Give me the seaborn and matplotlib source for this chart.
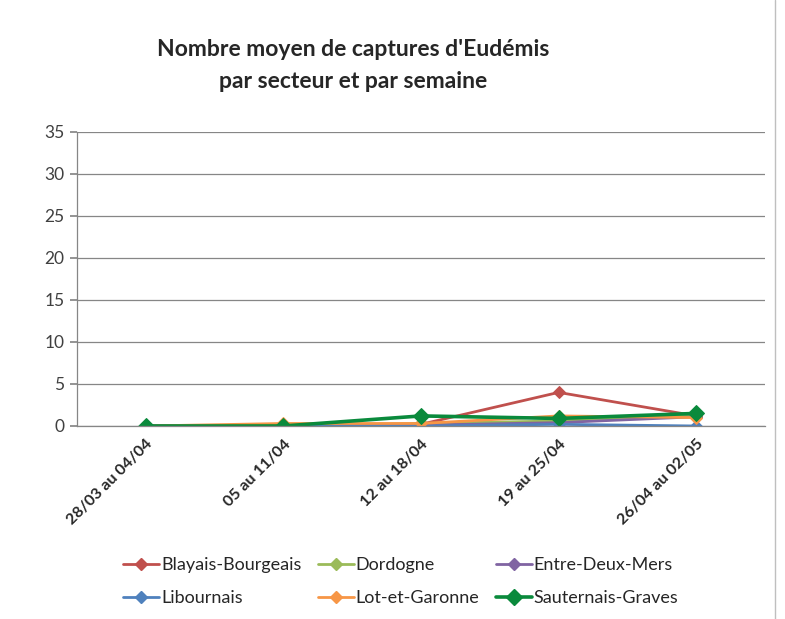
import matplotlib
matplotlib.use("Agg")
import matplotlib.pyplot as plt
import seaborn as sns
import pandas as pd
from matplotlib.lines import Line2D

weeks = ["28/03 au 04/04", "05 au 11/04", "12 au 18/04", "19 au 25/04", "26/04 au 02/05"]
blayais = [0, 0, 0.2, 4.0, 1.2]
dordogne = [0, 0, 0.3, 0.6, 1.3]
entre = [0, 0, 0.1, 0.4, 1.1]
libournais = [0, 0, 0.0, 0.2, 0.0]
lot = [0, 0.3, 0.3, 1.2, 1.0]
sauternais = [0, 0, 1.2, 0.9, 1.5]

series_names = ["Blayais-Bourgeais", "Dordogne", "Entre-Deux-Mers",
                "Libournais", "Lot-et-Garonne", "Sauternais-Graves"]
series_values = [blayais, dordogne, entre, libournais, lot, sauternais]
colors = ["#C0504D", "#9BBB59", "#8064A2", "#4F81BD", "#F79646", "#0A8A3C"]

sns.set_theme(style="white")
plt.rcParams['font.family'] = ['Lato', 'DejaVu Sans']

fig = plt.figure(figsize=(7.85, 6.19), dpi=100)
ax = fig.add_axes([77/785, 1-426/619, (765-77)/785, (426-132)/619])

handles = []
for name, vals, col in zip(series_names, series_values, colors):
    big = name == "Sauternais-Graves"
    df = pd.DataFrame({"x": range(len(weeks)), "y": vals})
    sns.lineplot(data=df, x="x", y="y", ax=ax, color=col,
                 linewidth=2.6 if big else 2.0,
                 marker="D", markersize=8 if big else 6.5,
                 markeredgecolor=col, legend=False)
    handles.append(Line2D([0], [0], color=col, linewidth=2.6 if big else 2.0,
                          marker="D", markersize=8 if big else 6.5,
                          markeredgecolor=col))

ax.set_xlim(-0.5, 4.5)
ax.set_ylim(0, 35)
ax.set_yticks(range(0, 36, 5))
ax.set_xticks(range(len(weeks)))
ax.set_xticklabels(weeks, rotation=45, ha="right", rotation_mode="anchor",
                   fontweight="bold", fontsize=11.5)
ax.tick_params(axis="y", labelsize=12.5, length=5, color="#868686", left=True,
               pad=4, labelcolor="#404040")
ax.tick_params(axis="x", length=0, pad=8)
ax.set_xlabel("")
ax.set_ylabel("")
ax.grid(axis="y", color="#868686", linewidth=0.9)
ax.set_axisbelow(True)
for s in ["top", "right"]:
    ax.spines[s].set_visible(False)
ax.spines["left"].set_color("#868686")
ax.spines["bottom"].set_color("#868686")
ax.spines["left"].set_linewidth(0.9)
ax.spines["bottom"].set_linewidth(0.9)

fig.text(353/785, 1-50/619, "Nombre moyen de captures d'Eudémis", ha="center",
         va="center", fontsize=16.5, fontweight="bold")
fig.text(353/785, 1-81/619, "par secteur et par semaine", ha="center",
         va="center", fontsize=16.5, fontweight="bold")

order = [0, 3, 1, 4, 2, 5]
fig.legend([handles[i] for i in order], [series_names[i] for i in order],
           ncol=3, loc="center left",
           bbox_to_anchor=(107/785, 1-581.5/619), frameon=False,
           fontsize=13, handlelength=2.0, handletextpad=0.1,
           columnspacing=0.9, labelspacing=0.95)

fig.add_artist(Line2D([775/785, 775/785], [0, 1], transform=fig.transFigure,
                      color="#BFBFBF", linewidth=1))

fig.savefig("out.png", dpi=100)
